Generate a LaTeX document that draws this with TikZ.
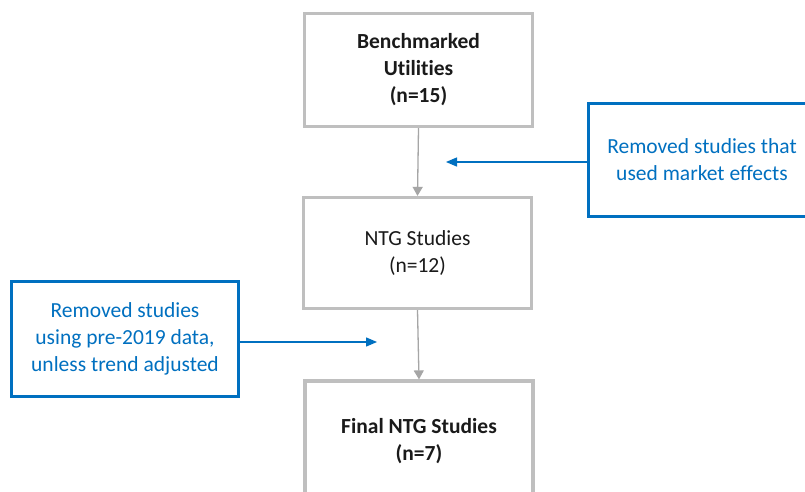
\documentclass[tikz,border=0pt]{standalone}
\usepackage{fontspec}
\setmainfont[Ligatures={NoCommon}]{Carlito}
\usetikzlibrary{arrows.meta}
\definecolor{boxgray}{HTML}{BFBFBF}
\definecolor{arrgray}{HTML}{A6A6A6}
\definecolor{msblue}{HTML}{0070C0}
\definecolor{txt}{HTML}{1A1A1A}
\begin{document}
\begin{tikzpicture}[x=1pt,y=-1pt,
  graybox/.style={draw=boxgray, line width=3.2pt, fill=white, minimum width=228pt, align=center, text=txt,
    font=\fontsize{21.5}{27}\selectfont, inner sep=0pt},
  bluebox/.style={draw=msblue, line width=3.8pt, fill=white, align=center, text=msblue,
    font=\fontsize{21.5}{27}\selectfont, inner sep=0pt},
  grayarrow/.style={draw=arrgray, line width=1.3pt, -{Triangle[width=10pt,length=9pt]}},
  bluearrow/.style={draw=msblue, line width=1.3pt, -{Triangle[width=9pt,length=11pt]}}]
\useasboundingbox (0,0) rectangle (805,492);
\clip (0,0) rectangle (805,492);
\fill[white] (0,0) rectangle (805,492);
\node[graybox, minimum height=113pt] (top) at (418.5,70) {\textbf{Benchmarked}\\\textbf{Utilities}\\\textbf{(n=15)}};
\node[graybox, minimum height=111pt] (mid) at (417.5,253) {NTG Studies\\(n=12)};
\node[graybox, minimum height=120pt] (fin) at (419,441) {\textbf{Final NTG Studies}\\\textbf{(n=7)}};
\node[bluebox, minimum width=227pt, minimum height=113pt] (rbox) at (702,160) {Removed studies that\\used market effects};
\node[bluebox, minimum width=227pt, minimum height=115pt] (lbox) at (125,339) {Removed studies\\using pre-2019 data,\\unless trend adjusted};
\coordinate (rtip) at (446,162);
\coordinate (ltip) at (377,342);
\draw[grayarrow] (top.south) -- (mid.north);
\draw[grayarrow] (mid.south) -- (fin.north);
\draw[bluearrow] (rbox.west |- rtip) -- (rtip);
\draw[bluearrow] (lbox.east |- ltip) -- (ltip);
\end{tikzpicture}
\end{document}
